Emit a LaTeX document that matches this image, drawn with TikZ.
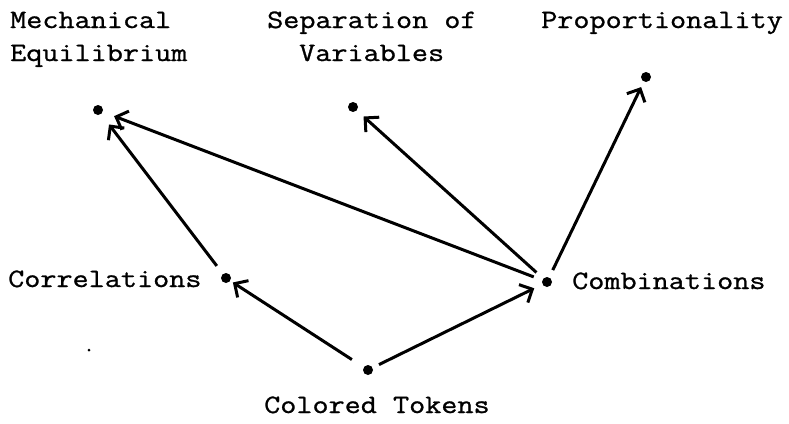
\documentclass[tikz,border=0pt]{standalone}
\usepackage{fontspec}
\newfontfamily\tw{Latin Modern Mono}[FakeStretch=1.18,FakeBold=1]
\usetikzlibrary{arrows.meta}
\tikzset{
  dot/.style={circle,fill=black,inner sep=0pt,minimum size=10pt},
  lbl/.style={inner sep=0pt,anchor=base west,font=\tw\fontsize{26.5}{33}\selectfont,align=left},
  arr/.style={line width=3pt,-{Straight Barb[length=10pt,width=20pt,line width=3pt]}}
}
\begin{document}
\begin{tikzpicture}[x=1pt,y=-1pt]
\useasboundingbox (0,0) rectangle (789,423);
% dots
\node[dot] (me) at (98,110) {};
\node[dot] (sep) at (353,107) {};
\node[dot] (prop) at (646,77) {};
\node[dot] (corr) at (226,278) {};
\node[dot] (comb) at (547,282) {};
\node[dot] (tok) at (368,370) {};
\fill (89,350) circle (1.5);
% labels
\node[lbl] (lme1) at (10,28) {Mechanical};
\node[lbl] (lme2) at (10,61) {Equilibrium};
\node[lbl] (lsep1) at (267,28) {Separation of};
\node[lbl] (lsep2) at (299,61) {Variables};
\node[lbl] (lprop) at (541,28) {Proportionality};
\node[lbl] (lcorr) at (8,287) {Correlations};
\node[lbl] (lcomb) at (572,289) {Combinations};
\node[lbl] (ltok) at (264,413) {Colored Tokens};
% connectors
\draw[arr,shorten <=9pt,shorten >=12pt] (comb) -- (me);
\draw[arr,shorten <=10pt,shorten >=13pt] (corr) -- (me);
\draw[arr,shorten <=9pt,shorten >=9pt] (comb) -- (sep);
\draw[arr,shorten <=8pt,shorten >=6pt] (comb) -- (prop);
\draw[arr,shorten <=14pt,shorten >=3pt] (tok) -- (corr);
\draw[arr,shorten <=7pt,shorten >=9pt] (tok) -- (comb);
\end{tikzpicture}
\end{document}
